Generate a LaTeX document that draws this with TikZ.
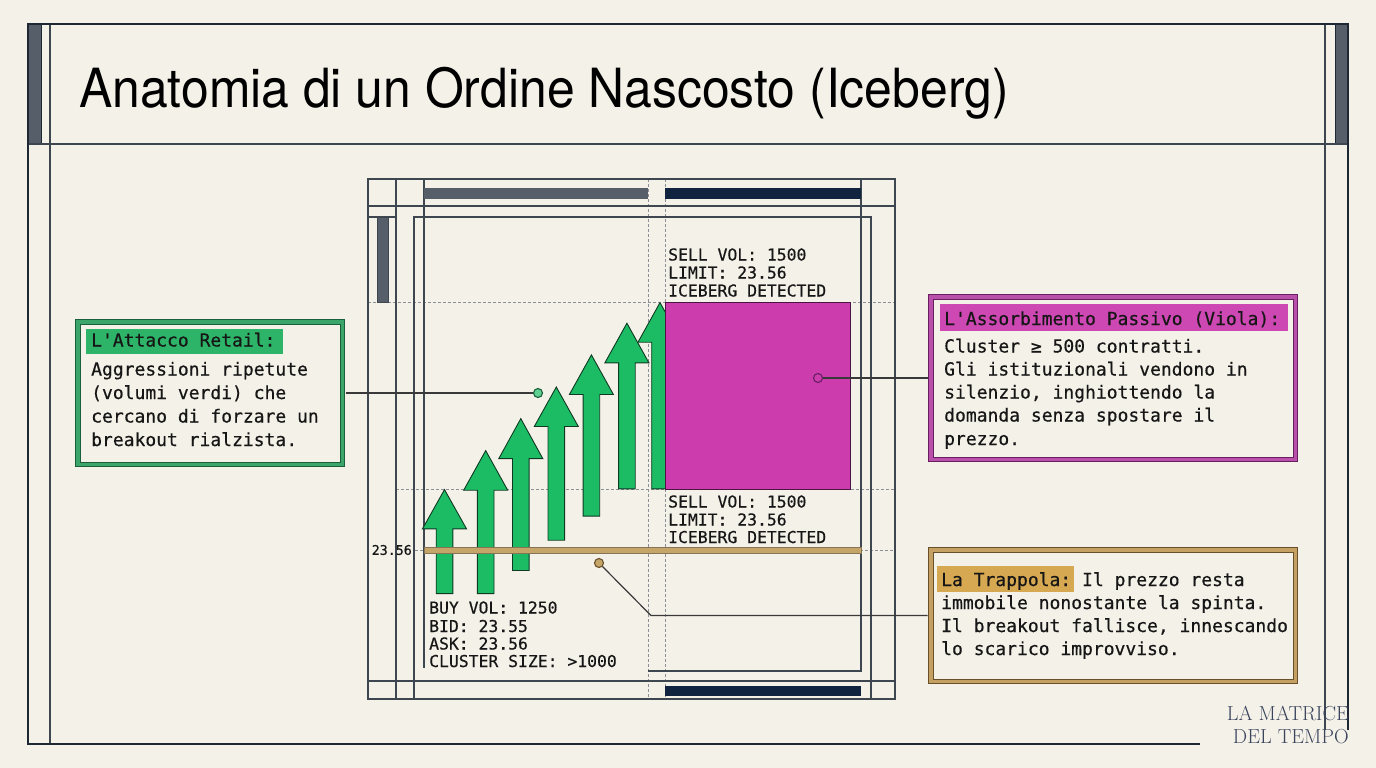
\documentclass[tikz,border=0pt]{standalone}
\usepackage{fontspec}
\usepackage{graphicx}
\newfontfamily\titlefont{TeX Gyre Heros}
\newfontfamily\monof[FakeBold=0.5]{DejaVu Sans Mono}
\definecolor{bg}{RGB}{244,241,232}
\definecolor{frameC}{RGB}{30,40,52}
\definecolor{thinC}{RGB}{62,70,80}
\definecolor{dashC}{RGB}{140,144,150}
\definecolor{grayBar}{RGB}{86,94,106}
\definecolor{navy}{RGB}{16,36,64}
\definecolor{greenF}{RGB}{28,188,100}
\definecolor{greenD}{RGB}{25,95,58}
\definecolor{greenBand}{RGB}{60,165,105}
\definecolor{greenHL}{RGB}{45,180,105}
\definecolor{magF}{RGB}{204,60,172}
\definecolor{purD}{RGB}{105,30,98}
\definecolor{purBand}{RGB}{185,80,170}
\definecolor{purHL}{RGB}{205,72,178}
\definecolor{tanF}{RGB}{198,166,104}
\definecolor{tanD}{RGB}{105,80,42}
\definecolor{tanBand}{RGB}{196,160,98}
\definecolor{tanHL}{RGB}{214,168,82}
\definecolor{txt}{RGB}{22,22,22}
\definecolor{wm}{RGB}{58,68,92}
\begin{document}
\begin{tikzpicture}[x=1pt,y=-1pt,
  frame/.style={draw=frameC,line width=2.6pt},
  thin/.style={draw=thinC,line width=1.3pt},
  chartline/.style={draw=thinC,line width=1.1pt},
  dashline/.style={draw=dashC,line width=0.8pt,dash pattern=on 3pt off 2pt},
  arrowshape/.style={fill=greenF,draw=greenD!60!black,line width=0.9pt,line join=miter},
  ann/.style={font=\monof\fontsize{18}{22}\selectfont,text=txt,anchor=base west,inner sep=0pt},
  ct/.style={font=\monof\fontsize{16.4}{18}\selectfont,text=txt,anchor=base west,inner sep=0pt},
  annbox/.style={line width=1pt,double distance=3.5pt,fill=bg,inner sep=0pt},
  conn/.style={draw=txt!85,line width=1.2pt},
  marker/.style={circle,minimum size=9pt,inner sep=0pt,line width=1.1pt}
]
\useasboundingbox (0,0) rectangle (1376,768);
\fill[bg] (0,0) rectangle (1376,768);

% ---- page frame ----
\fill[grayBar,draw=frameC,line width=1pt] (28,24) rectangle (41,144);
\fill[grayBar,draw=frameC,line width=1pt] (1335,24) rectangle (1348,144);
\draw[thin] (50,24) -- (50,744);
\draw[thin] (1325,24) -- (1325,730);
\draw[thin] (28,144) -- (1348,144);
\draw[frame] (1348,730) -- (1348,24) -- (28,24) -- (28,744) -- (1200,744);

% ---- title ----
\node (title) [anchor=base west,inner sep=0pt,text=black] at (79,107)
  {\scalebox{0.9235}[1]{\titlefont\fontsize{54}{60}\selectfont Anatomia di un Ordine Nascosto (Iceberg)}};

% ---- chart grid ----
\draw[dashline] (648,179) -- (648,699);
\draw[dashline] (665,179) -- (665,699);
\draw[dashline] (368,302) -- (895,302);
\draw[dashline] (396,489) -- (895,489);
\draw[dashline] (415,550) -- (895,550);
\draw[chartline] (368,179) rectangle (895,699);
\draw[chartline] (368,206) -- (895,206);
\draw[chartline] (368,681) -- (895,681);
\draw[chartline] (368,217) -- (396,217);
\draw[chartline] (396,179) -- (396,699);
\draw[chartline] (424,179) -- (424,668);
\draw[chartline] (414,699) -- (414,217) -- (871,217) -- (871,699);
\draw[chartline] (861,179) -- (861,671) -- (648,671);
\fill[grayBar,draw=thinC,line width=0.8pt] (377.3,217) rectangle (388.3,302);
\fill[grayBar] (424.4,188) rectangle (647.5,198.5);
\fill[navy] (665,188) rectangle (861,198.5);
\fill[navy] (665,685.5) rectangle (861,695.5);

% ---- green arrows ----
\foreach \c/\t/\b/\e in {444.5/489.6/528.8/593.6, 485.7/450.6/490.2/593.6, 520.8/418.6/458.6/570.5,
  556.3/387/426.5/540.2, 591.4/354.9/394.5/516.1, 626.9/323.2/362.8/488.9, 660/302.6/342.2/488.9}{
  \draw[arrowshape] (\c-8.3,\e) -- (\c-8.3,\b) -- (\c-22,\b) -- (\c,\t) -- (\c+22,\b)
     -- (\c+8.3,\b) -- (\c+8.3,\e) -- cycle;
}

% ---- price line (over the arrows) ----
\filldraw[fill=tanF,draw=tanD!80,line width=0.7pt] (424.4,547) rectangle (861,553);
\node (pricelbl) [font=\monof\fontsize{13.3}{15}\selectfont,text=txt,anchor=east,inner sep=0pt] at (412,550) {23.56};

% ---- magenta block ----
\filldraw[fill=magF,draw=purD!70!black,line width=0.8pt] (665,302) rectangle (850.7,489);

% ---- chart texts ----
\node (s1a) [ct] at (668,260.5) {SELL VOL: 1500};
\node (s1b) [ct] at (668,278.5) {LIMIT: 23.56};
\node (s1c) [ct] at (668,296.5) {ICEBERG DETECTED};
\node (s2a) [ct] at (668,507.5) {SELL VOL: 1500};
\node (s2b) [ct] at (668,525.5) {LIMIT: 23.56};
\node (s2c) [ct] at (668,543) {ICEBERG DETECTED};
\node (b1) [ct] at (429,613.5) {BUY VOL: 1250};
\node (b2) [ct] at (429,632) {BID: 23.55};
\node (b3) [ct] at (429,649.5) {ASK: 23.56};
\node (b4) [ct] at (429,667) {CLUSTER SIZE: >1000};

% ---- annotation boxes ----
\node (gbox) [annbox,draw=greenD,double=greenBand,minimum width=264.5pt,minimum height=142.5pt] at (210,393) {};
\node (pbox) [annbox,draw=purD,double=purBand,minimum width=364.5pt,minimum height=162.5pt] at (1113,378) {};
\node (tbox) [annbox,draw=tanD,double=tanBand,minimum width=364.5pt,minimum height=131.5pt] at (1113,615.5) {};

% markers
\node (gcirc) [marker,draw=greenD,fill=greenF!70] at (538,393) {};
\node (pcirc) [marker,draw=purD,fill=magF] at (818,378) {};
\node (tcirc) [marker,draw=tanD,fill=tanF] at (599,563) {};
\coordinate (tbend) at (651,615.5);

% connectors
\draw[conn,shorten <=2.75pt] (gbox.east) -- (gcirc);
\draw[conn,shorten >=2.75pt] (pcirc) -- (pbox.west);
\draw[conn,shorten >=2.75pt] (tcirc) -- (tbend) -- (tbox.west);

% green box text
\fill[greenHL] (86,329) rectangle (283,354);
\node (g0) [ann] at (91,346.5) {L'Attacco Retail:};
\node (g1) [ann] at (91,375.5) {Aggressioni ripetute};
\node (g2) [ann] at (91,399) {(volumi verdi) che};
\node (g3) [ann] at (91,422.5) {cercano di forzare un};
\node (g4) [ann] at (91,446) {breakout rialzista.};

% purple box text
\fill[purHL] (940,304) rectangle (1288,331);
\node (p0) [ann] at (944,325) {L'Assorbimento Passivo (Viola):};
\node (p1) [ann] at (944,352.5) {Cluster ≥ 500 contratti.};
\node (p2) [ann] at (944,375.5) {Gli istituzionali vendono in};
\node (p3) [ann] at (944,398.5) {silenzio, inghiottendo la};
\node (p4) [ann] at (944,421.5) {domanda senza spostare il};
\node (p5) [ann] at (944,445) {prezzo.};

% tan box text
\fill[tanHL] (937,566) rectangle (1074,592);
\node (t0) [ann] at (941,586) {La Trappola:};
\node (t0b) [ann] at (1081.9,586) {Il prezzo resta};
\node (t1) [ann] at (941,609) {immobile nonostante la spinta.};
\node (t2) [ann] at (941,632) {Il breakout fallisce, innescando};
\node (t3) [ann] at (941,655) {lo scarico improvviso.};

% watermark
\node (wm1) [anchor=base east,inner sep=0pt,text=wm,font=\fontsize{20.3}{22}\selectfont] at (1349,720.5) {LA MATRICE};
\node (wm2) [anchor=base east,inner sep=0pt,text=wm,font=\fontsize{20.3}{22}\selectfont] at (1349,743.5) {DEL TEMPO};
\end{tikzpicture}
\end{document}
